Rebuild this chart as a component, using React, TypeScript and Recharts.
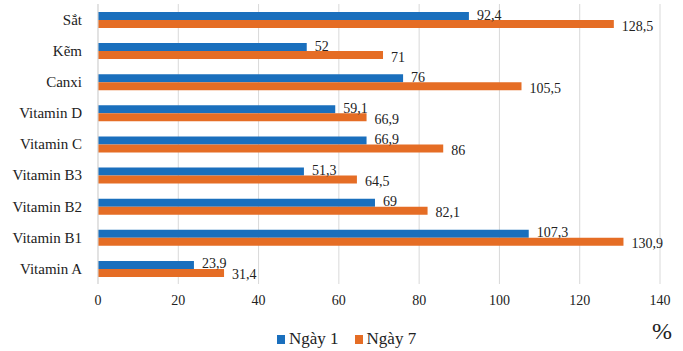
import { BarChart, Bar, XAxis, YAxis, CartesianGrid, Legend, LabelList } from 'recharts';

const categories = ['Sắt', 'Kẽm', 'Canxi', 'Vitamin D', 'Vitamin C', 'Vitamin B3', 'Vitamin B2', 'Vitamin B1', 'Vitamin A'];
const day1 = [92.4, 52, 76, 59.1, 66.9, 51.3, 69, 107.3, 23.9];
const day7 = [128.5, 71, 105.5, 66.9, 86, 64.5, 82.1, 130.9, 31.4];
const xTicks = [0, 20, 40, 60, 80, 100, 120, 140];

const data = categories.map((name, i) => ({ name, day1: day1[i], day7: day7[i] }));

const FONT = 'Liberation Serif, DejaVu Serif, serif';
const TEXT = '#222';
const BLUE = '#1a6fbd';
const ORANGE = '#e56d25';

const fmt = (v: number) => String(v).replace('.', ',');

// value label to the right of each bar, nudged a bit like the original
const makeLabel = (dy: number) => (props: any) => {
  const { x, y, width, height, value } = props;
  return (
    <text
      x={Number(x) + Number(width) + 8}
      y={Number(y) + Number(height) / 2 + dy}
      dominantBaseline="central"
      fontSize={14}
      fontFamily={FONT}
      fill={TEXT}
    >
      {fmt(value)}
    </text>
  );
};

const LegendBox = () => (
  <div style={{ display: 'flex', alignItems: 'center', fontFamily: FONT, fontSize: 17, color: TEXT, lineHeight: '22px' }}>
    <span style={{ width: 8, height: 9, background: BLUE, display: 'inline-block', marginRight: 4 }} />
    <span style={{ marginRight: 16 }}>Ngày 1</span>
    <span style={{ width: 8, height: 9, background: ORANGE, display: 'inline-block', marginRight: 4 }} />
    <span>Ngày 7</span>
  </div>
);

export default function App() {
  return (
    <div style={{ position: 'absolute', left: 0, top: 0, width: 683, height: 351, background: '#fff', fontFamily: FONT }}>
      <BarChart
        width={683}
        height={351}
        data={data}
        layout="vertical"
        margin={{ top: 4, right: 23, left: 0, bottom: 37 }}
        barGap={0}
      >
        <CartesianGrid horizontal={false} stroke="#d9d9d9" />
        <XAxis
          type="number"
          domain={[0, 140]}
          ticks={xTicks}
          axisLine={false}
          tickLine={false}
          tickSize={0}
          tickMargin={11}
          height={30}
          tick={{ fontSize: 14, fill: TEXT, fontFamily: FONT }}
          label={{
            content: (p: any) => (
              <text
                x={p.viewBox.x + p.viewBox.width + 2}
                y={p.viewBox.y + 47}
                textAnchor="middle"
                dominantBaseline="central"
                fontSize={24}
                fontFamily={FONT}
                fill={TEXT}
              >
                %
              </text>
            ),
          }}
        />
        <YAxis
          type="category"
          dataKey="name"
          width={98}
          axisLine={{ stroke: '#d9d9d9' }}
          tickLine={false}
          tickSize={0}
          tickMargin={16}
          interval={0}
          tick={{ fontSize: 15, fill: TEXT, fontFamily: FONT }}
        />
        <Legend
          layout="horizontal"
          verticalAlign="middle"
          content={<LegendBox />}
          wrapperStyle={{ top: 328, left: 277, width: 200, height: 22 }}
        />
        <Bar dataKey="day1" name="Ngày 1" fill={BLUE} barSize={8} isAnimationActive={false}>
          <LabelList dataKey="day1" content={makeLabel(-1)} />
        </Bar>
        <Bar dataKey="day7" name="Ngày 7" fill={ORANGE} barSize={8} isAnimationActive={false}>
          <LabelList dataKey="day7" content={makeLabel(2)} />
        </Bar>
      </BarChart>
    </div>
  );
}
